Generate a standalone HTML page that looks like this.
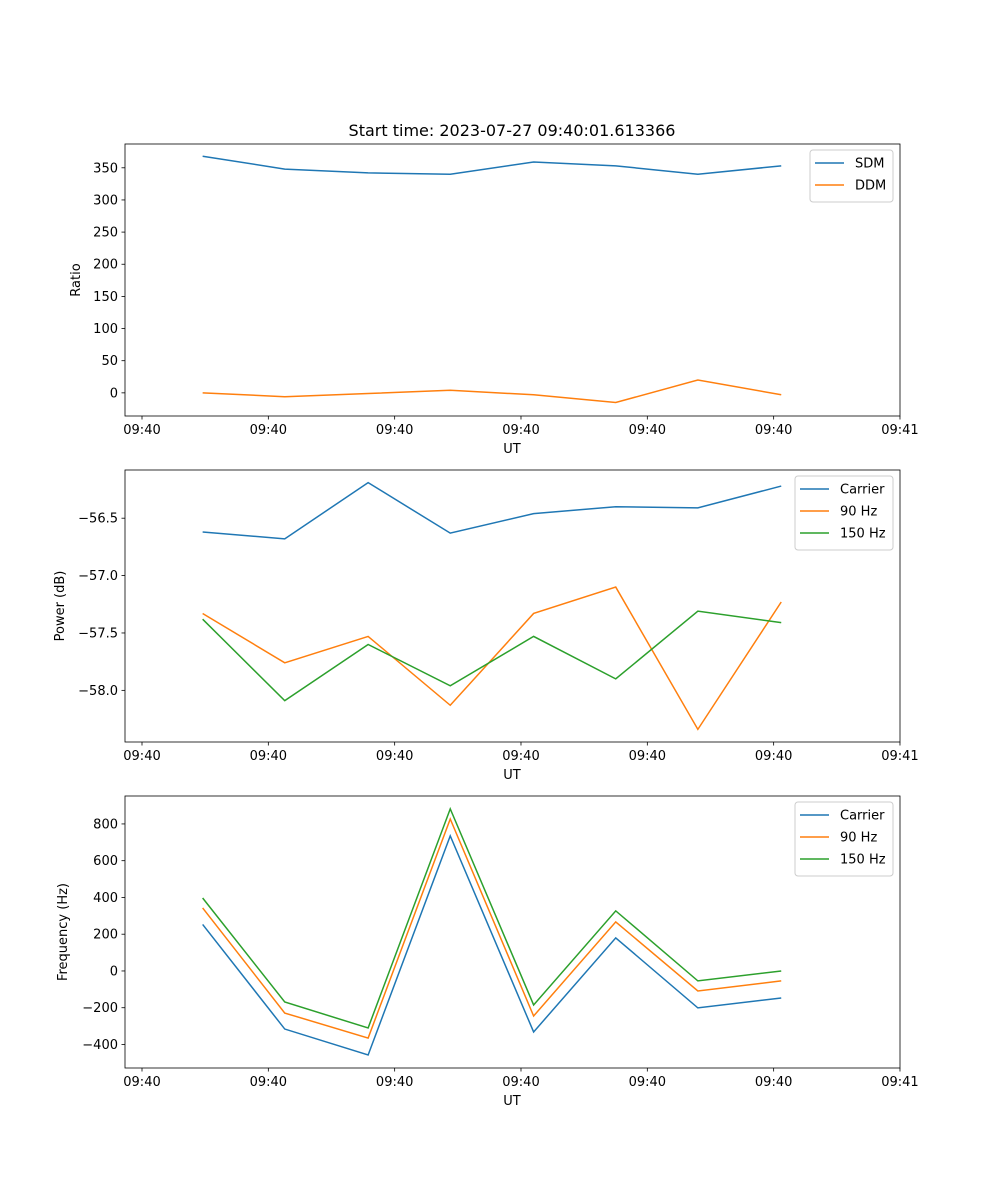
<!DOCTYPE html>
<html><head><meta charset="utf-8"><style>
body{margin:0;background:#fff}
svg{display:block;font-family:"DejaVu Sans","Liberation Sans",sans-serif}
</style></head><body>
<svg id="fig" width="1000" height="1200" xmlns="http://www.w3.org/2000/svg">
<rect width="1000" height="1200" fill="#fff"/>
<text x="512" y="136" font-size="16" text-anchor="middle">Start time: 2023-07-27 09:40:01.613366</text>
</svg>
<script>
// shared x data (in tick units)
const times = [0.48, 1.13, 1.79, 2.44, 3.10, 3.75, 4.40, 5.06];
const xTicks = [0, 1, 2, 3, 4, 5, 6];
const xTickLabels = ["09:40","09:40","09:40","09:40","09:40","09:40","09:41"];
// panel 1
const sdm = [368, 348, 342, 340, 359, 353, 340, 353];
const ddm = [0, -6, -1, 4, -3, -15, 20, -3];
const ratioTicks = [0, 50, 100, 150, 200, 250, 300, 350];
// panel 2
const powCarrier = [-56.62, -56.68, -56.19, -56.63, -56.46, -56.40, -56.41, -56.22];
const pow90 = [-57.33, -57.76, -57.53, -58.13, -57.33, -57.10, -58.34, -57.23];
const pow150 = [-57.38, -58.09, -57.60, -57.96, -57.53, -57.90, -57.31, -57.41];
const powTicks = [-56.5, -57.0, -57.5, -58.0];
const powTickLabels = ["\u221256.5","\u221257.0","\u221257.5","\u221258.0"];
// panel 3
const freqCarrier = [253, -316, -457, 735, -332, 180, -201, -147];
const freq90 = [343, -229, -365, 827, -245, 267, -109, -54];
const freq150 = [397, -169, -310, 882, -185, 327, -54, 0];
const freqTicks = [-400, -200, 0, 200, 400, 600, 800];

const NS = "http://www.w3.org/2000/svg";
const svg = document.getElementById('fig');
function mk(tag, attrs, parent){const e=document.createElementNS(NS,tag);for(const k in attrs)e.setAttribute(k,attrs[k]);(parent||svg).appendChild(e);return e;}
const X0=125,X1=900;
const xs = t => 142 + t*126.33;
const C={blue:"#1f77b4",orange:"#ff7f0e",green:"#2ca02c"};

function panel(key, top, bottom, ymin, ymax, yt, ytl, ylabel, series, legend){
  const g=mk('g',{});
  
  
  const ys = v => bottom - (v-ymin)/(ymax-ymin)*(bottom-top);
  series.forEach(s=>{
    const p=mk('polyline',{points:s.v.map((v,i)=>xs(times[i])+','+ys(v)).join(' '),fill:'none',stroke:s.c,'stroke-width':1.5},g);
    
    
  });
  const fr=mk('rect',{x:X0,y:top,width:X1-X0,height:bottom-top,fill:'none',stroke:'#000','stroke-width':0.8},g);
  
  
  xTicks.forEach((t,i)=>{
    mk('line',{x1:xs(t),x2:xs(t),y1:bottom,y2:bottom+3.5,stroke:'#000','stroke-width':0.8},g);
    const tx=mk('text',{x:xs(t),y:bottom+18,'font-size':13,'text-anchor':'middle'},g);
    tx.textContent=xTickLabels[i];
    
    
  });
  yt.forEach((v,i)=>{
    mk('line',{x1:X0-3.5,x2:X0,y1:ys(v),y2:ys(v),stroke:'#000','stroke-width':0.8},g);
    const tx=mk('text',{x:X0-7,y:ys(v)+4.5,'font-size':13,'text-anchor':'end'},g);
    tx.textContent=ytl?ytl[i]:(v<0?'\u2212'+(-v):String(v));
    
    
  });
  const xl=mk('text',{x:512,y:bottom+37,'font-size':13,'text-anchor':'middle'},g);
  xl.textContent='UT';
  
  
  const yl=mk('text',{x:legend.ylx,y:(top+bottom)/2,'font-size':13,'text-anchor':'middle',transform:`rotate(-90 ${legend.ylx} ${(top+bottom)/2})`},g);
  yl.textContent=ylabel;
  
  
  const lg=mk('g',{},g);
  
  
  const h=8+series.length*22;
  mk('rect',{x:legend.x,y:top+6,width:893-legend.x,height:h,rx:3,fill:'#fff',stroke:'#ccc','stroke-width':1,'fill-opacity':0.8},lg);
  series.forEach((s,i)=>{
    const yy=top+19+i*22;
    mk('line',{x1:legend.x+5,x2:legend.x+34,y1:yy,y2:yy,stroke:s.c,'stroke-width':1.5},lg);
    const t=mk('text',{x:legend.x+45,y:yy+4.5,'font-size':13},lg);
    t.textContent=s.name;
    
    
  });
}
panel('ratio',144,416,-36,387,ratioTicks,null,'Ratio',
  [{id:'sdm',name:'SDM',v:sdm,c:C.blue},{id:'ddm',name:'DDM',v:ddm,c:C.orange}],{x:810,ylx:80});
panel('power',470,742,-58.45,-56.08,powTicks,powTickLabels,'Power (dB)',
  [{id:'carrier',name:'Carrier',v:powCarrier,c:C.blue},{id:'90hz',name:'90 Hz',v:pow90,c:C.orange},{id:'150hz',name:'150 Hz',v:pow150,c:C.green}],{x:795,ylx:64});
panel('freq',796,1068,-528,952,freqTicks,null,'Frequency (Hz)',
  [{id:'carrier',name:'Carrier',v:freqCarrier,c:C.blue},{id:'90hz',name:'90 Hz',v:freq90,c:C.orange},{id:'150hz',name:'150 Hz',v:freq150,c:C.green}],{x:795,ylx:67});
</script>
</body></html>
